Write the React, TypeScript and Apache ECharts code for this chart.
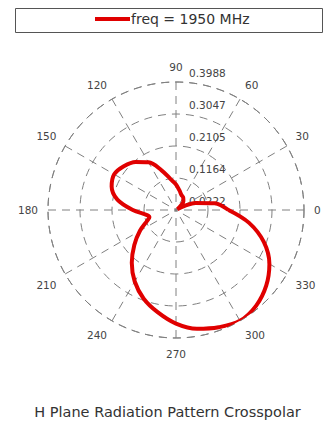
import React, { useEffect, useRef } from "react";
import * as echarts from "echarts";

// Antenna H-plane crosspolar pattern, angle in degrees (0 = +x, CCW)
const angles: number[] = [
  0, 10, 20, 25, 30, 40, 50, 60, 70, 80, 90, 100, 110, 120, 130, 140, 150, 160,
  170, 180, 190, 195, 200, 210, 220, 230, 240, 250, 260, 270, 280, 290, 300,
  310, 320, 330, 340, 350, 360,
];
const gain: number[] = [
  0.1766, 0.1371, 0.0834, 0.0505, 0.0269, 0.0363, 0.0561, 0.0646, 0.0693,
  0.0806, 0.0975, 0.1145, 0.1465, 0.1841, 0.2067, 0.2227, 0.2322, 0.2237,
  0.1973, 0.1493, 0.1088, 0.1032, 0.1116, 0.1446, 0.1823, 0.2246, 0.2651,
  0.2999, 0.3282, 0.3564, 0.3771, 0.3894, 0.3988, 0.3894, 0.3687, 0.3395,
  0.2971, 0.2406, 0.1766,
];
const radiusTicks: string[] = ["0.0222", "0.1164", "0.2105", "0.3047", "0.3988"];
const seriesName = "freq = 1950 MHz";
const chartTitle = "H Plane Radiation Pattern Crosspolar";

const rMin = 0.0222;
const rMax = 0.3988;
const rStep = (rMax - rMin) / 4;
const FONT = "DejaVu Sans";

export default function App() {
  const ref = useRef<HTMLDivElement>(null);

  useEffect(() => {
    if (!ref.current) return;
    const chart = echarts.init(ref.current, undefined, { renderer: "svg" });
    const grid = { color: "#808080", width: 1, type: [8, 6] as number[] };

    // the angle axis runs from 90 to 450 so the radial labels sit on the 90° spoke
    const data = angles.map((a, i) => [gain[i], a < 90 ? a + 360 : a]);

    chart.setOption({
      animation: false,
      backgroundColor: "#ffffff",
      title: {
        text: chartTitle,
        left: "center",
        top: 404,
        padding: 0,
        textStyle: {
          fontFamily: FONT,
          fontSize: 14.5,
          fontWeight: "normal",
          color: "#333",
        },
      },
      legend: {
        data: [seriesName],
        left: 95,
        top: 12,
        padding: 0,
        icon: "rect",
        itemWidth: 35,
        itemHeight: 4,
        textStyle: { fontFamily: FONT, fontSize: 14, color: "#333", padding: [0, 0, 0, -4] },
      },
      graphic: [
        {
          type: "rect",
          shape: { x: 15.5, y: 8.5, width: 307, height: 24 },
          style: { fill: "none", stroke: "#555", lineWidth: 1 },
          z: -1,
        },
      ],
      polar: { center: [176, 210], radius: 128 },
      angleAxis: {
        type: "value",
        min: 90,
        max: 450,
        interval: 30,
        startAngle: 90,
        clockwise: false,
        axisLine: { show: true, lineStyle: grid },
        axisTick: { show: false },
        splitLine: { show: true, lineStyle: grid },
        axisLabel: {
          margin: 10,
          fontFamily: FONT,
          fontSize: 10.5,
          color: "#444",
          formatter: (v: number) => (v === 450 ? "" : String(v % 360)),
        },
      },
      radiusAxis: {
        type: "value",
        min: rMin,
        max: rMax,
        interval: rStep,
        axisLine: { show: false },
        axisTick: { show: false },
        splitLine: { show: true, lineStyle: grid },
        axisLabel: {
          margin: -13,
          fontFamily: FONT,
          fontSize: 10.5,
          color: "#444",
          align: "left",
          verticalAlign: "bottom",
          padding: [0, 0, 4, 0],
          formatter: (v: number) => radiusTicks[Math.round((v - rMin) / rStep)] ?? "",
        },
      },
      series: [
        {
          name: seriesName,
          type: "line",
          coordinateSystem: "polar",
          data,
          symbol: "none",
          smooth: 0.35,
          lineStyle: { color: "#e00000", width: 4 },
          itemStyle: { color: "#e00000" },
          z: 3,
        },
      ],
    });
    return () => chart.dispose();
  }, []);

  return (
    <div
      ref={ref}
      style={{ position: "absolute", left: 0, top: 0, width: 335, height: 427 }}
    />
  );
}
